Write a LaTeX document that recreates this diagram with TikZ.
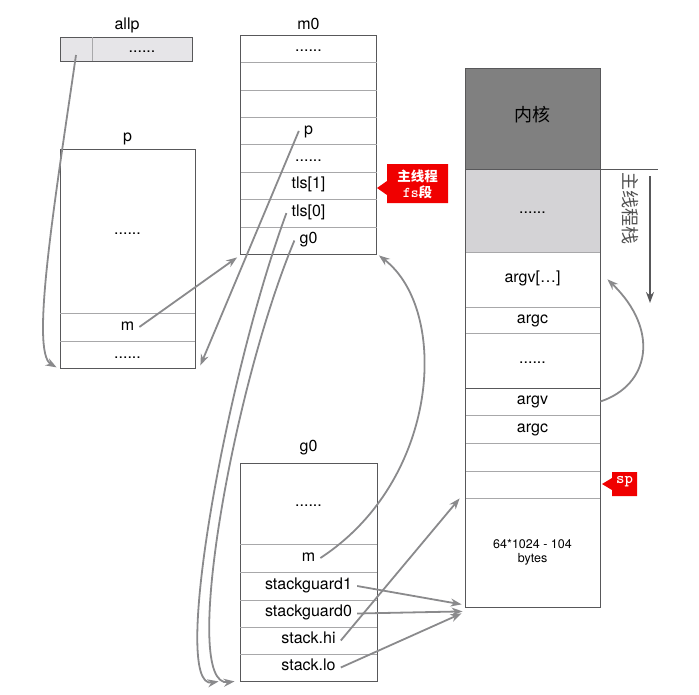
\documentclass[tikz,border=0pt]{standalone}
\usepackage{fontspec}
\setmainfont{TeX Gyre Heros}
\newfontfamily\cjk{Noto Sans CJK SC}
\usetikzlibrary{arrows.meta}
\definecolor{framegray}{RGB}{88,88,90}
\definecolor{rowgray}{RGB}{168,168,170}
\definecolor{arrowgray}{RGB}{138,138,140}
\definecolor{cellgray}{RGB}{230,229,232}
\definecolor{kernelgray}{RGB}{128,128,128}
\definecolor{stackgray}{RGB}{212,211,214}
\definecolor{callred}{RGB}{240,0,0}
\definecolor{inkgray}{RGB}{80,80,80}

\begin{document}
\begin{tikzpicture}[x=1pt, y=-1pt, >=Stealth,
  txt/.style={font=\fontsize{16}{19}\selectfont, text height=1.5ex, text depth=.25ex, inner xsep=5pt, inner ysep=0pt},
  boxframe/.style={draw=framegray, line width=0.8pt, inner sep=0pt},
  rowline/.style={draw=rowgray, line width=0.6pt},
  ptr/.style={-{Stealth[length=11pt,width=8pt]}, draw=arrowgray, line width=1.8pt},
  note/.style={text=white, inner sep=0pt, align=center}]
\useasboundingbox (0,0) rectangle (699,694);

% allp
\node[txt] (allplbl) at (127,26) {allp};
\node[boxframe, fill=cellgray, minimum width=132pt, minimum height=24pt] (allpbox) at (126,49) {};
\node[inner sep=0pt, minimum width=32pt, minimum height=24pt] (allp0) at (76,49) {};
\draw[rowline] (allp0.north east) -- (allp0.south east);
\node[txt] (allpdots) at (142,49) {......};

% p
\node[txt] (plbl) at (127.5,138) {p};
\node[boxframe, minimum width=135pt, minimum height=219pt] (pbox) at (127.5,258.5) {};
\foreach \y in {313,341} \draw[rowline] (60,\y) -- (195,\y);
\node[txt] (pdots) at (127.5,231) {......};
\node[txt] (pm) at (127.5,327) {m};
\node[txt] (pdots2) at (127.5,355) {......};

% m0
\node[txt] (m0lbl) at (308.5,26) {m0};
\node[boxframe, minimum width=136pt, minimum height=219pt] (m0box) at (308.5,144.5) {};
\foreach \i in {1,...,7} \draw[rowline] (240.5,35+27.4*\i) -- (376.5,35+27.4*\i);
\node[txt] (m0dots) at (308.5,48.7) {......};
\node[txt] (m0p) at (308.5,130.9) {p};
\node[txt] (m0dots2) at (308.5,158.3) {......};
\node[txt] (m0tls1) at (308.5,185.7) {tls[1]};
\node[txt] (m0tls0) at (308.5,213.1) {tls[0]};
\node[txt] (m0g0) at (308.5,240.5) {g0};

\fill[callred] (377,188) -- (387,181) -- (387,164) -- (448,164) -- (448,203) -- (387,203) -- (387,195) -- cycle;
\node[note, font=\fontsize{13.5}{16}\selectfont\bfseries] (fsnote) at (417.5,184) {\cjk 主线程\\\ttfamily\fontsize{15}{16}\selectfont fs\cjk\fontsize{13.5}{16}\selectfont 段};

% g0
\node[txt] (g0lbl) at (308.5,448) {g0};
\node[boxframe, minimum width=137pt, minimum height=218pt] (g0box) at (308.5,572) {};
\foreach \y in {544,572,600,627,654} \draw[rowline] (240,\y) -- (377,\y);
\node[txt] (g0dots) at (308.5,503.5) {......};
\node[txt] (g0m) at (308.5,558) {m};
\node[txt] (g0sg1) at (308.5,586) {stackguard1};
\node[txt] (g0sg0) at (308.5,613.5) {stackguard0};
\node[txt] (g0hi) at (308.5,640.5) {stack.hi};
\node[txt] (g0lo) at (308.5,667.5) {stack.lo};

% main thread stack
\fill[kernelgray] (465,68) rectangle (600,169);
\fill[stackgray] (465,169) rectangle (600,252);
\foreach \y in {252,307,333,415,443,471,498} \draw[rowline] (465,\y) -- (600,\y);
\draw[boxframe] (465,388) -- (600,388);
\draw[boxframe] (465,169) -- (658,169);
\node[boxframe, minimum width=135pt, minimum height=539pt] (stk) at (532.5,337.5) {};
\node[txt, font=\cjk\fontsize{18}{21}\selectfont] (kern) at (532.5,118.5) {内核};
\node[txt] (stkdots) at (532.5,210.5) {......};
\node[txt] (stkargvs) at (532.5,279.5) {argv[…]};
\node[txt] (stkargc) at (532.5,320) {argc};
\node[txt] (stkdots2) at (532.5,360.5) {......};
\node[txt] (stkargv) at (532.5,401.5) {argv};
\node[txt] (stkargc2) at (532.5,429) {argc};
\node[align=center, font=\fontsize{12.5}{14}\selectfont] (stkbytes) at (532.5,552.5) {64*1024 - 104\\bytes};

\node[rotate=-90, text=inkgray, font=\cjk\fontsize{18}{20}\selectfont] (stklbl) at (630,208) {主线程栈};
\coordinate (growtop) at (650,176);
\coordinate (growend) at (650,303);
\draw[-{Stealth[length=11pt,width=8pt]}, framegray, line width=1.6pt] (growtop) -- (growend);

\fill[callred] (602,484) -- (612,478) -- (612,472) -- (637,472) -- (637,496) -- (612,496) -- (612,490) -- cycle;
\node[note, font=\fontsize{16}{16}\selectfont\ttfamily\bfseries] (spnote) at (624.5,482) {sp};

% pointers
\draw[ptr] ([shift={(0,6)}]allp0.center) .. controls (55,200) and (30,352) .. ([shift={(-3,-1)}]pbox.south west);
\draw[ptr] (pm.east) -- ([shift={(-3,3)}]m0box.south west);
\draw[ptr] (m0p.west) -- ([shift={(5,-3)}]pbox.south east);
\draw[ptr] (m0tls0.west) .. controls (225,380) and (170,690) .. ([shift={(-21,0)}]g0box.south west);
\draw[ptr] (m0g0.west) .. controls (232,390) and (180,688) .. ([shift={(-5,0)}]g0box.south west);
\draw[ptr] (g0m.east) .. controls (440,480) and (450,310) .. ([shift={(2,1)}]m0box.south east);
\draw[ptr] (g0sg1.east) -- ([shift={(-3,-3)}]stk.south west);
\draw[ptr] (g0sg0.east) -- ([shift={(-2,4)}]stk.south west);
\draw[ptr] (g0hi.east) -- ([shift={(-5,-109)}]stk.south west);
\draw[ptr] (g0lo.east) -- ([shift={(-3,6)}]stk.south west);
\draw[ptr] (stkargv.east -| stk.east) .. controls (650,385) and (660,330) .. ([shift={(7,-5)}]stkargvs.south -| stk.east);
\end{tikzpicture}
\end{document}
